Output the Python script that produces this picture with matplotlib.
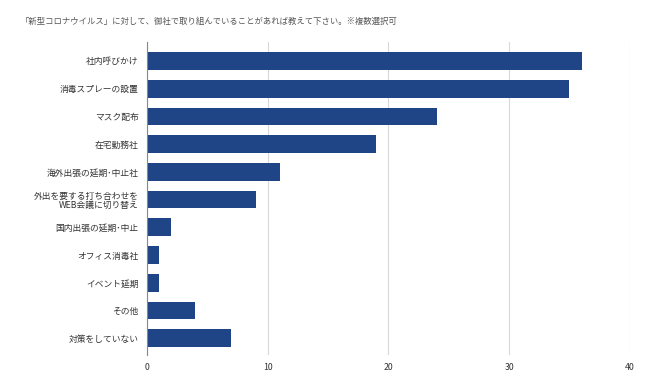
import matplotlib
matplotlib.use("Agg")
import matplotlib.pyplot as plt

plt.rcParams['font.family'] = ['Noto Sans CJK JP', 'DejaVu Sans']

title = "「新型コロナウイルス」に対して、御社で取り組んでいることがあれば教えて下さい。※複数選択可"
categories = [
    "社内呼びかけ",
    "消毒スプレーの設置",
    "マスク配布",
    "在宅勤務社",
    "海外出張の延期･中止社",
    "外出を要する打ち合わせを\nWEB会議に切り替え",
    "国内出張の延期･中止",
    "オフィス消毒社",
    "イベント延期",
    "その他",
    "対策をしていない",
]
values = [36, 35, 24, 19, 11, 9, 2, 1, 1, 4, 7]
xticks = [0, 10, 20, 30, 40]

fig = plt.figure(figsize=(6.5, 3.9), dpi=100)
ax = fig.add_axes([0.226, 0.09, 0.743, 0.802])

pos = list(range(len(categories)))
ax.barh(pos, values, height=0.64, color='#1f4587', zorder=3)
ax.set_ylim(len(categories) - 0.4, -0.68)
ax.set_xlim(0, 40)
ax.set_yticks(pos)
ax.set_yticklabels(categories, fontsize=6.3, color='#333333', linespacing=1.0)
ax.set_xticks(xticks)
ax.set_xticklabels([str(t) for t in xticks], fontsize=6.3, color='#333333')
ax.tick_params(axis='y', length=0, pad=6)
ax.tick_params(axis='x', length=0, pad=6)
ax.grid(axis='x', color='#d9d9d9', linewidth=0.8, zorder=0)
for s in ['top', 'right', 'bottom']:
    ax.spines[s].set_visible(False)
ax.spines['left'].set_color('#888888')
ax.spines['left'].set_linewidth(0.8)
ax.spines['left'].set_zorder(4)

fig.text(0.031, 0.944, title, fontsize=6.0, color='#555555', ha='left', va='center')

fig.savefig('out.png', dpi=100, facecolor='white')
